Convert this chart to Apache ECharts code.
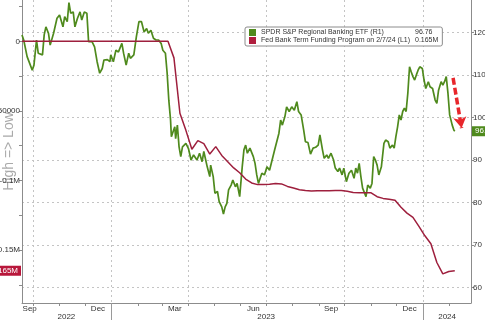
<!DOCTYPE html>
<html><head><meta charset="utf-8">
<script src="https://cdn.jsdelivr.net/npm/echarts@6/dist/echarts.min.js"></script>
<style>html,body{margin:0;padding:0;background:#fff}#c{width:485px;height:320px}</style>
</head><body><div id="c"></div>
<script>
const kreName = 'SPDR S&P Regional Banking ETF (R1)';
const btfpName = 'Fed Bank Term Funding Program on 2/7/24 (L1)';
const kreLast = '96.76';
const btfpLast = '0.165M';
const btfpTag = '-0.165M';
const kreTagValue = 96.76;
const btfpTagValue = -165000;

const kreDates = ['2022-09-18','2022-09-20','2022-09-24','2022-09-27','2022-09-30','2022-10-02','2022-10-05','2022-10-07','2022-10-08','2022-10-12','2022-10-14','2022-10-16','2022-10-19','2022-10-21','2022-10-25','2022-10-27','2022-10-29','2022-11-01','2022-11-03','2022-11-05','2022-11-07','2022-11-10','2022-11-12','2022-11-14','2022-11-17','2022-11-19','2022-11-22','2022-11-25','2022-11-27','2022-11-30','2022-12-03','2022-12-05','2022-12-09','2022-12-12','2022-12-15','2022-12-18','2022-12-21','2022-12-23','2022-12-27','2022-12-30','2022-12-31','2023-01-03','2023-01-06','2023-01-09','2023-01-13','2023-01-15','2023-01-18','2023-01-21','2023-01-23','2023-01-27','2023-01-28','2023-01-30','2023-02-02','2023-02-05','2023-02-08','2023-02-11','2023-02-13','2023-02-16','2023-02-19','2023-02-22','2023-02-25','2023-02-28','2023-03-02','2023-03-05','2023-03-07','2023-03-09','2023-03-11','2023-03-12','2023-03-14','2023-03-16','2023-03-17','2023-03-19','2023-03-21','2023-03-23','2023-03-25','2023-03-29','2023-04-01','2023-04-04','2023-04-07','2023-04-11','2023-04-14','2023-04-17','2023-04-19','2023-04-23','2023-04-26','2023-04-27','2023-04-30','2023-05-02','2023-05-05','2023-05-07','2023-05-10','2023-05-12','2023-05-14','2023-05-16','2023-05-18','2023-05-21','2023-05-23','2023-05-26','2023-05-28','2023-05-31','2023-06-03','2023-06-05','2023-06-07','2023-06-09','2023-06-12','2023-06-16','2023-06-18','2023-06-20','2023-06-22','2023-06-24','2023-06-26','2023-06-29','2023-07-02','2023-07-05','2023-07-08','2023-07-11','2023-07-13','2023-07-16','2023-07-18','2023-07-20','2023-07-23','2023-07-25','2023-07-28','2023-07-31','2023-08-03','2023-08-06','2023-08-08','2023-08-11','2023-08-14','2023-08-16','2023-08-19','2023-08-22','2023-08-25','2023-08-28','2023-08-31','2023-09-02','2023-09-05','2023-09-07','2023-09-10','2023-09-12','2023-09-15','2023-09-18','2023-09-20','2023-09-23','2023-09-25','2023-09-28','2023-09-30','2023-10-03','2023-10-06','2023-10-09','2023-10-12','2023-10-14','2023-10-16','2023-10-18','2023-10-20','2023-10-22','2023-10-26','2023-10-28','2023-10-31','2023-11-02','2023-11-04','2023-11-06','2023-11-08','2023-11-10','2023-11-13','2023-11-16','2023-11-18','2023-11-21','2023-11-23','2023-11-26','2023-11-28','2023-11-30','2023-12-02','2023-12-04','2023-12-06','2023-12-08','2023-12-10','2023-12-12','2023-12-14','2023-12-16','2023-12-18','2023-12-20','2023-12-22','2023-12-24','2023-12-26','2023-12-28','2023-12-31','2024-01-02','2024-01-04','2024-01-07','2024-01-09','2024-01-12','2024-01-15','2024-01-17','2024-01-19','2024-01-22','2024-01-24','2024-01-26','2024-01-28','2024-01-30','2024-02-01','2024-02-02','2024-02-04','2024-02-06','2024-02-07'];
const kreValues = [119.4,118.2,114.3,112.7,111.1,112.3,118.2,115.1,114.7,114.7,119.4,121.3,119.8,117.0,119.8,120.1,123.3,124.1,123.7,121.3,123.7,122.5,127.0,124.5,124.8,121.3,123.3,124.8,122.9,124.8,124.5,117.8,117.8,116.6,113.1,110.4,111.5,113.5,113.6,113.1,114.7,113.1,115.8,115.4,117.4,115.1,112.3,115.1,113.9,114.7,114.3,119.0,122.5,122.5,120.1,120.9,119.8,120.5,118.6,118.2,118.2,117.4,115.8,115.1,110.5,104.0,99.5,95.5,95.3,97.8,95.0,98.2,93.1,90.8,93.1,93.9,92.7,90.0,91.2,90.0,91.6,89.6,92.0,88.4,86.1,88.8,86.1,82.2,82.6,80.2,79.0,77.3,79.0,79.8,83.0,84.1,85.3,83.7,84.5,81.4,88.4,92.4,93.5,91.6,92.8,90.8,89.2,86.5,84.5,85.7,86.9,86.5,88.4,87.6,90.0,92.4,92.8,96.3,99.4,98.2,100.2,102.5,101.4,102.5,101.7,103.7,101.4,100.6,97.0,94.3,94.1,91.4,92.8,93.0,93.5,95.9,92.4,90.4,91.2,90.4,91.6,90.0,88.1,87.3,88.1,86.5,88.1,84.9,86.9,87.6,85.7,88.1,86.9,89.2,86.1,83.4,81.4,84.1,83.4,84.5,90.8,90.0,88.8,86.5,88.4,93.9,94.7,94.3,92.8,93.5,92.8,95.5,97.8,100.6,99.4,101.4,102.2,101.4,105.7,111.9,110.7,109.6,108.8,110.0,111.1,111.9,111.5,108.8,106.8,108.4,107.2,106.8,104.1,103.3,106.4,108.4,107.6,108.4,109.6,105.7,100.6,100.2,98.2,97.0,96.76];

const btfpDates = ['2022-09-18','2023-03-08','2023-03-15','2023-03-22','2023-03-29','2023-04-05','2023-04-12','2023-04-19','2023-04-26','2023-05-03','2023-05-10','2023-05-17','2023-05-24','2023-05-31','2023-06-07','2023-06-14','2023-06-21','2023-06-28','2023-07-05','2023-07-12','2023-07-19','2023-07-26','2023-08-02','2023-08-09','2023-08-16','2023-08-23','2023-08-30','2023-09-06','2023-09-13','2023-09-20','2023-09-27','2023-10-04','2023-10-11','2023-10-18','2023-10-25','2023-11-01','2023-11-08','2023-11-15','2023-11-22','2023-11-29','2023-12-06','2023-12-13','2023-12-20','2023-12-27','2024-01-03','2024-01-10','2024-01-17','2024-01-24','2024-01-31','2024-02-07'];
const btfpValues = [0,0,-11900,-51700,-64000,-77600,-71400,-73500,-81000,-75700,-82000,-86500,-91000,-94500,-99000,-101800,-103000,-103000,-102700,-102200,-102500,-104300,-105500,-106700,-107300,-107600,-107500,-107400,-107400,-107300,-107300,-107800,-108700,-108800,-108800,-108900,-111700,-112900,-113500,-114200,-119300,-123500,-126500,-133000,-139800,-145500,-159000,-167200,-165500,-165000];

const rightTicks = [60,70,80,90,100,110,120];
const leftLabelValues = [0,-50000,-100000,-150000];
const leftLabels = ['0','-50000','-0.1M','-0.15M'];
const leftTickValues = [25000,0,-25000,-50000,-75000,-100000,-125000,-150000,-175000];
const monthTickDates = ['2022-10-01','2022-11-01','2022-12-01','2023-01-01','2023-02-01','2023-03-01','2023-04-01','2023-05-01','2023-06-01','2023-07-01','2023-08-01','2023-09-01','2023-10-01','2023-11-01','2023-12-01','2024-01-01','2024-02-01'];
const quarterDates = ['2022-10-01','2023-01-01','2023-04-01','2023-07-01','2023-10-01','2024-01-01'];
const monthLabelDates = ['2022-09-27','2022-12-16','2023-03-16','2023-06-16','2023-09-15','2023-12-16'];
const monthLabels = ['Sep','Dec','Mar','Jun','Sep','Dec'];
const yearLabelDates = ['2022-11-09','2023-07-01','2024-01-29'];
const yearLabels = ['2022','2023','2024'];
const yearBreaks = ['2023-01-01','2024-01-01'];
const xMin = '2022-09-18', xMax = '2024-02-26';
const rightMin = 56.4, rightMax = 127.6;
const leftMin = -188100, leftMax = 29700;
const arrowFrom = ['2024-02-05', 109.3], arrowTo = ['2024-02-15', 97.5];

const GREEN = '#4f8a1d', RED = '#9e1f3d', ARROW = '#e8262b', AX = '#8c8c8c', GRIDC = '#c4c4c4', TXT = '#333';
const FONT = "'Liberation Sans', Arial, sans-serif";

function ts(s){const p=s.split('-').map(Number);return Date.UTC(p[0],p[1]-1,p[2]);}
function lookupDate(dates, labels){const t=dates.map(ts);return v=>{const i=t.findIndex(x=>Math.abs(x-v)<1000);return i>=0?labels[i]:'';};}
function lookupNum(vals, labels){return v=>{const i=vals.findIndex(x=>Math.abs(x-v)<1e-6);return i>=0?labels[i]:'';};}

const chart = echarts.init(document.getElementById('c'), null, {renderer:'canvas'});
chart.setOption({
  animation:false,
  backgroundColor:'#fff',
  textStyle:{fontFamily:FONT},
  grid:{left:22, right:14, top:0, bottom:17, containLabel:false, outerBoundsMode:'none'},
  legend:{
    left:245, top:27, orient:'vertical', itemGap:1, itemWidth:7, itemHeight:7, icon:'rect',
    backgroundColor:'#fff', borderColor:AX, borderWidth:1, borderRadius:2, padding:[2,4,2,4],
    data:[kreName, btfpName], selectedMode:false,
    formatter: n => '{n|'+n+'}{v|'+(n===kreName?kreLast:btfpLast)+'}',
    textStyle:{fontSize:7, color:TXT, fontFamily:FONT,
      rich:{n:{width:154, fontSize:7, fontFamily:FONT, color:TXT}, v:{fontSize:7, fontFamily:FONT, color:TXT}}}
  },
  xAxis:[
    {type:'value', min:ts(xMin), max:ts(xMax), position:'bottom',
     axisLine:{show:true, onZero:false, lineStyle:{color:AX, width:1}},
     axisTick:{show:true, customValues:monthTickDates.map(ts), length:3, lineStyle:{color:AX}},
     axisLabel:{show:false}, splitLine:{show:false}},
    {type:'value', min:ts(xMin), max:ts(xMax), position:'bottom',
     axisLine:{show:false, onZero:false}, axisTick:{show:false, customValues:quarterDates.map(ts)},
     splitLine:{show:true, lineStyle:{color:GRIDC, type:[2,3], width:1}},
     axisLabel:{show:true, customValues:monthLabelDates.map(ts), formatter:lookupDate(monthLabelDates, monthLabels),
       margin:2, fontSize:8, color:TXT, hideOverlap:false}},
    {type:'value', min:ts(xMin), max:ts(xMax), position:'bottom',
     axisLine:{show:false, onZero:false},
     axisTick:{show:true, customValues:yearBreaks.map(ts), length:18, lineStyle:{color:'#9a9a9a'}},
     splitLine:{show:false},
     axisLabel:{show:true, customValues:yearLabelDates.map(ts), formatter:lookupDate(yearLabelDates, yearLabels),
       margin:10, fontSize:8, color:TXT, hideOverlap:false}}
  ],
  yAxis:[
    {type:'value', position:'left', min:leftMin, max:leftMax,
     axisLine:{show:true, onZero:false, lineStyle:{color:AX}},
     axisTick:{show:true, customValues:leftTickValues, length:3, lineStyle:{color:AX}},
     axisLabel:{show:true, customValues:leftLabelValues, formatter:lookupNum(leftLabelValues, leftLabels),
       fontSize:8, color:TXT, margin:2},
     splitLine:{show:false},
     name:'High => Low', nameLocation:'middle', nameGap:6, nameRotate:90, nameMoveOverlap:false,
     nameTextStyle:{color:'#aaaaaa', fontSize:14, fontFamily:FONT}},
    {type:'value', position:'right', min:rightMin, max:rightMax,
     axisLine:{show:true, onZero:false, lineStyle:{color:AX}},
     axisTick:{show:true, customValues:rightTicks, length:3, lineStyle:{color:AX}},
     axisLabel:{show:true, customValues:rightTicks, fontSize:8, color:TXT, margin:2},
     splitLine:{show:true, lineStyle:{color:GRIDC, type:[2,3], width:1}}}
  ],
  series:[
    {name:kreName, type:'line', xAxisIndex:0, yAxisIndex:1, showSymbol:false, symbol:'none',
     data:kreDates.map((d,i)=>[ts(d), kreValues[i]]),
     lineStyle:{color:GREEN, width:1.7}, itemStyle:{color:GREEN}, z:3,
     markLine:{silent:true, animation:false, symbol:['none','arrow'], symbolSize:[10,11],
       data:[
         {yAxis:kreTagValue, symbol:'none', lineStyle:{color:'rgba(0,0,0,0)', width:0},
          label:{show:true, position:'end', formatter:kreLast, color:'#fff', backgroundColor:GREEN, opacity:1,
                 padding:[1,3,1,3], fontSize:8, distance:1, fontFamily:FONT}},
         [{coord:[ts(arrowFrom[0]), arrowFrom[1]], lineStyle:{color:ARROW, width:3.5, type:[7,3]}, label:{show:false}},
          {coord:[ts(arrowTo[0]), arrowTo[1]]}]
       ]}},
    {name:btfpName, type:'line', xAxisIndex:0, yAxisIndex:0, showSymbol:false, symbol:'none',
     data:btfpDates.map((d,i)=>[ts(d), btfpValues[i]]),
     lineStyle:{color:RED, width:1.5}, itemStyle:{color:'#b01e3e'}, z:4,
     markLine:{silent:true, animation:false, symbol:'none',
       data:[{yAxis:btfpTagValue, lineStyle:{color:'rgba(0,0,0,0)', width:0},
          label:{show:true, position:'start', formatter:btfpTag, color:'#fff', backgroundColor:'#b8173b', opacity:1,
                 padding:[1,3,1,3], fontSize:8, distance:1, fontFamily:FONT}}]}}
  ]
});
</script></body></html>
